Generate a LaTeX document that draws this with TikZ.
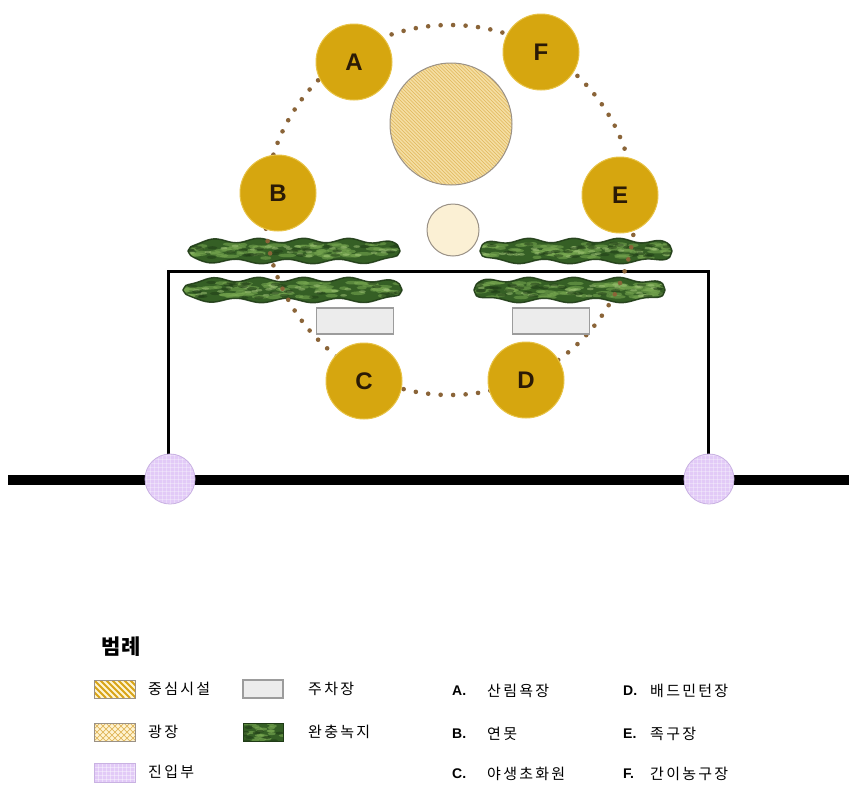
\documentclass[tikz,border=0pt]{standalone}
\usepackage{fontspec}
\setmainfont{Liberation Sans}
\newfontfamily\krfont{Noto Sans CJK KR}[LetterSpace=15]
\newfontfamily\krhead{Noto Sans CJK KR}[LetterSpace=5]
\usetikzlibrary{calc}

\definecolor{gold}{HTML}{D6A60F}
\definecolor{goldedge}{HTML}{E8C347}
\definecolor{letterc}{HTML}{2A1A06}
\definecolor{dotc}{HTML}{8A6438}
\definecolor{plazafill}{HTML}{F4DEA2}
\definecolor{plazahatch}{HTML}{E0B65A}
\definecolor{smallfill}{HTML}{FBF0D4}
\definecolor{edgegray}{HTML}{9A9186}
\definecolor{lav}{HTML}{E2CAF7}
\definecolor{lavedge}{HTML}{C9B2E2}
\definecolor{parkfill}{HTML}{ECECEC}
\definecolor{parkedge}{HTML}{9C9C9C}
\definecolor{gdark}{HTML}{1F3B16}
\definecolor{gmid}{HTML}{355F25}
\definecolor{glight}{HTML}{7AAA52}
\definecolor{glight2}{HTML}{A3C67A}
\definecolor{stripec}{HTML}{D8A418}
\definecolor{keycream}{HTML}{FFF4D2}

% wavy outline of a buffer-green strip: x from #1 to #2, centre line #3
\newcommand\stripshape[3]{plot[domain=#1:#2,samples=80,smooth]
  (\x,{#3-(max(0.0001,1-(abs(2*\x-#1-#2)/(#2-#1))^8))^0.4*(10.5-2.2*sin(8*\x))})
  -- plot[domain=#2:#1,samples=80,smooth]
  (\x,{#3+(max(0.0001,1-(abs(2*\x-#1-#2)/(#2-#1))^8))^0.4*(10.5+2.2*sin(7*\x+60))}) -- cycle}

\newcommand\greenstrip[4]{%
  \begin{scope}
    \clip \stripshape{#1}{#2}{#3};
    \fill[gmid] (#1,#3-15) rectangle (#2,#3+15);
    \pgfmathsetseed{#4}
    \foreach \i in {1,...,70}{
      \pgfmathsetmacro\px{#1+rnd*(#2-#1)}
      \pgfmathsetmacro\py{#3+(rnd-0.5)*15}
      \pgfmathsetmacro\pw{4+rnd*6}
      \fill[glight,opacity=.55] (\px,\py) ellipse[x radius=\pw,y radius=1.8];
    }
    \foreach \i in {1,...,30}{
      \pgfmathsetmacro\px{#1+rnd*(#2-#1)}
      \pgfmathsetmacro\py{#3+(rnd-0.5)*12}
      \fill[glight2,opacity=.5] (\px,\py) ellipse[x radius=3.5,y radius=1.3];
    }
    \foreach \i in {1,...,30}{
      \pgfmathsetmacro\px{#1+rnd*(#2-#1)}
      \pgfmathsetmacro\py{#3+(rnd-0.5)*16}
      \fill[gdark,opacity=.5] (\px,\py) ellipse[x radius=5,y radius=1.6];
    }
  \end{scope}
  \draw[gdark,line width=1.4pt,opacity=.9,line join=round] \stripshape{#1}{#2}{#3};
}

\begin{document}
\begin{tikzpicture}[x=1pt,y=-1pt,
  spot/.style={circle,minimum size=76pt,inner sep=0pt,fill=gold,draw=goldedge,
    line width=1pt,text=letterc,font=\bfseries\fontsize{24}{24}\selectfont},
  hub/.style={circle,minimum size=122pt,inner sep=0pt,fill=plazafill,draw=edgegray,
    line width=1pt,path picture={\foreach \k in {-190,-186.5,...,70}
      \draw[plazahatch,line width=.7pt]
        ($(path picture bounding box.center)+(\k,-65)$) -- ++(130,130);}},
  plaza/.style={circle,minimum size=52pt,inner sep=0pt,fill=smallfill,draw=edgegray,
    line width=1pt},
  park/.style={rectangle,minimum width=77pt,minimum height=26pt,inner sep=0pt,
    fill=parkfill,draw=parkedge,line width=1.3pt},
  entry/.style={circle,minimum size=50pt,inner sep=0pt,fill=lav,draw=lavedge,
    line width=.8pt,path picture={\foreach \k in {-24,-20,...,24}
      {\draw[white,opacity=.3,line width=.6pt]
        ($(path picture bounding box.center)+(\k,-30)$) -- ++(0,60);
       \draw[white,opacity=.3,line width=.6pt]
        ($(path picture bounding box.center)+(-30,\k)$) -- ++(60,0);}}},
  ring/.style={dotc,line width=4.6pt,line cap=round,dash pattern=on 0pt off 12.5pt},
  frameline/.style={black,line width=3pt},
  roadline/.style={black,line width=10pt},
  legtxt/.style={anchor=west,inner sep=0pt,font=\krfont\fontsize{15}{15}\selectfont},
  legtag/.style={anchor=west,inner sep=0pt,font=\bfseries\fontsize{14}{14}\selectfont},
  keybox/.style={draw=edgegray,line width=.8pt}
]
\useasboundingbox (0,0) rectangle (849,788);
\fill[white] (0,0) rectangle (849,788);

% road and frame
\coordinate (roadW) at (8,480);
\coordinate (roadE) at (849,480);
\coordinate (pL) at (170,479);
\coordinate (pR) at (709,479);
\coordinate (ftop) at (440,271);
\draw[roadline] (roadW) -- (roadE);
\draw[frameline] ($(pL)+(-2,0)$) |- (ftop) -| ($(pR)+(-1,0)$);

% buffer greens
\greenstrip{188}{400}{251}{11}
\greenstrip{183}{402}{290}{23}
\greenstrip{480}{672}{251}{37}
\greenstrip{474}{665}{290}{51}

% dotted walking loop
\coordinate (ringc) at (450,210);
\draw[ring] (ringc) circle[radius=185];

% parking
\node[park] (parkL) at (355,321) {};
\node[park] (parkR) at (551,321) {};

% central facility and plaza
\node[hub] (hub) at (451,124) {};
\node[plaza] (sq) at (453,230) {};

% activity spots
\node[spot] (A) at (354,62) {A};
\node[spot] (F) at (541,52) {F};
\node[spot] (B) at (278,193) {B};
\node[spot] (E) at (620,195) {E};
\node[spot] (C) at (364,381) {C};
\node[spot] (D) at (526,380) {D};

% entrances
\node[entry] (enL) at (pL) {};
\node[entry] (enR) at (pR) {};

% legend
\node[anchor=west,inner sep=0pt,font=\krhead\bfseries\fontsize{21}{21}\selectfont]
  (legtitle) at (101,647) {범례};

% key: central facility
\begin{scope}
  \clip (94,680) rectangle (135,698);
  \fill[keycream] (94,680) rectangle (135,698);
  \foreach \k in {-24,-18,...,42}
    \draw[stripec,line width=2pt] ({94+\k},680) -- ({112+\k},698);
\end{scope}
\draw[keybox] (94,680) rectangle (135,698);
\node[legtxt] (t1) at (148,689) {중심시설};

% key: plaza
\begin{scope}
  \clip (94,723) rectangle (135,741);
  \fill[keycream] (94,723) rectangle (135,741);
  \foreach \k in {-24,-18,...,42}
    {\draw[plazahatch,line width=.7pt] ({94+\k},723) -- ({112+\k},741);
     \draw[plazahatch,line width=.7pt] ({112+\k},723) -- ({94+\k},741);}
\end{scope}
\draw[keybox] (94,723) rectangle (135,741);
\node[legtxt] (t2) at (148,732) {광장};

% key: entrance
\begin{scope}
  \clip (94,763) rectangle (135,782);
  \fill[lav] (94,763) rectangle (135,782);
  \foreach \k in {0,4,...,44}
    \draw[white,opacity=.4,line width=.6pt] ({94+\k},763) -- ({94+\k},782);
  \foreach \k in {0,4,...,20}
    \draw[white,opacity=.4,line width=.6pt] (94,{763+\k}) -- (135,{763+\k});
\end{scope}
\draw[lavedge,line width=.8pt] (94,763) rectangle (135,782);
\node[legtxt] (t3) at (148,772) {진입부};

% key: parking
\fill[parkfill] (243,680) rectangle (283,698);
\draw[parkedge,line width=1.2pt] (243,680) rectangle (283,698);
\node[legtxt] (t4) at (308,689) {주차장};

% key: buffer green
\begin{scope}
  \clip (243,723) rectangle (283,741);
  \fill[gmid] (243,723) rectangle (283,741);
  \pgfmathsetseed{5}
  \foreach \i in {1,...,22}{
    \pgfmathsetmacro\px{243+rnd*40}
    \pgfmathsetmacro\py{723+rnd*18}
    \fill[glight,opacity=.6] (\px,\py) ellipse[x radius=4,y radius=1.5];
  }
  \foreach \i in {1,...,10}{
    \pgfmathsetmacro\px{243+rnd*40}
    \pgfmathsetmacro\py{723+rnd*18}
    \fill[gdark,opacity=.6] (\px,\py) ellipse[x radius=4,y radius=1.5];
  }
\end{scope}
\draw[gdark,line width=.8pt] (243,723) rectangle (283,741);
\node[legtxt] (t5) at (308,732) {완충녹지};

% facility list
\node[legtag] (kA) at (452,691) {A.};
\node[legtxt] (nA) at (487,691) {산림욕장};
\node[legtag] (kB) at (452,734) {B.};
\node[legtxt] (nB) at (487,734) {연못};
\node[legtag] (kC) at (452,774) {C.};
\node[legtxt] (nC) at (487,774) {야생초화원};
\node[legtag] (kD) at (623,691) {D.};
\node[legtxt] (nD) at (650,691) {배드민턴장};
\node[legtag] (kE) at (623,734) {E.};
\node[legtxt] (nE) at (650,734) {족구장};
\node[legtag] (kF) at (623,774) {F.};
\node[legtxt] (nF) at (650,774) {간이농구장};
\end{tikzpicture}
\end{document}
